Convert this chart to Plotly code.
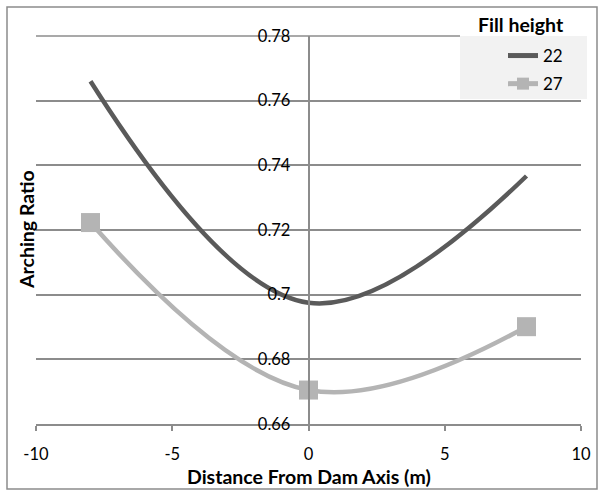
import plotly.graph_objects as go

distance = [-8, 0, 8]
fill_22 = [0.766, 0.6975, 0.7367]
fill_27 = [0.7223, 0.6705, 0.6901]
series_names = ["22", "27"]
x_ticks = [-10, -5, 0, 5, 10]
x_tick_text = ["-10", "-5", "0", "5", "10"]
y_ticks = [0.66, 0.68, 0.70, 0.72, 0.74, 0.76, 0.78]
y_tick_text = ["0.66", "0.68", "0.7", "0.72", "0.74", "0.76", "0.78"]

FONT = "Lato"
GRID = "#8c8c8c"


def px_x(p):
    return (p - 36) / 545


def px_y(p):
    return (424 - p) / 388


fig = go.Figure()
fig.add_trace(go.Scatter(
    x=distance, y=fill_22, name=series_names[0], mode="lines",
    line=dict(color="#5a5a5a", width=4.5, shape="spline", smoothing=1.1),
    legendgroup="a",
))
fig.add_trace(go.Scatter(
    x=distance, y=fill_27, name=series_names[1], mode="lines+markers",
    line=dict(color="#b4b4b4", width=4.5, shape="spline", smoothing=1.1),
    marker=dict(symbol="square", size=19, color="#b4b4b4"),
    legendgroup="b",
))

fig.update_layout(
    width=603, height=493,
    margin=dict(l=36, r=22, t=36, b=69),
    paper_bgcolor="white", plot_bgcolor="white",
    font=dict(family=FONT, size=16, color="#000000"),
    showlegend=True,
    legend=dict(
        x=px_x(503), xanchor="left",
        y=px_y(38), yanchor="top",
        bgcolor="rgba(0,0,0,0)",
        font=dict(family=FONT, size=17, color="#000"),
        itemsizing="constant",
        traceorder="grouped",
        tracegroupgap=3,
    ),
    xaxis=dict(
        range=[-10, 10], tickvals=x_ticks, ticktext=x_tick_text,
        showgrid=False, zeroline=False,
        showline=True, linecolor=GRID, linewidth=1.5,
        ticks="outside", ticklen=5, tickcolor=GRID, tickwidth=1.5,
        ticklabelstandoff=9,
        tickfont=dict(family=FONT, size=16.5, color="#000"),
    ),
    yaxis=dict(
        range=[0.66, 0.78], tickvals=y_ticks, ticktext=y_tick_text,
        anchor="free", position=0.5,
        showgrid=True, gridcolor=GRID, gridwidth=1.5, zeroline=False,
        showline=True, linecolor=GRID, linewidth=1.5,
        ticks="", ticklabelstandoff=14,
        tickfont=dict(family=FONT, size=16.5, color="#000"),
    ),
    annotations=[
        dict(text="<b>Distance From Dam Axis (m)</b>", x=0.5, y=px_y(476),
             xref="paper", yref="paper", showarrow=False,
             font=dict(family=FONT, size=19.5, color="#000"), xanchor="center", yanchor="middle"),
        dict(text="<b>Arching Ratio</b>", x=px_x(26), y=0.5, textangle=-90,
             xref="paper", yref="paper", showarrow=False,
             font=dict(family=FONT, size=19.5, color="#000"), xanchor="center", yanchor="middle"),
        dict(text="<b>Fill height</b>", x=px_x(521), y=px_y(24),
             xref="paper", yref="paper", showarrow=False,
             font=dict(family=FONT, size=19.5, color="#000"), xanchor="center", yanchor="middle"),
    ],
    shapes=[
        dict(type="rect", xref="paper", yref="paper",
             x0=px_x(7), x1=px_x(597), y0=px_y(489), y1=px_y(7),
             line=dict(color="#8c8c8c", width=1.5), fillcolor="rgba(0,0,0,0)", layer="below"),
        dict(type="line", xref="paper", yref="paper",
             x0=0, x1=px_x(460), y0=1, y1=1,
             line=dict(color=GRID, width=1.5), layer="below"),
        dict(type="rect", xref="paper", yref="paper",
             x0=px_x(460), x1=px_x(587), y0=px_y(99), y1=px_y(36),
             line=dict(width=0), fillcolor="#f2f2f2", layer="between"),
    ],
)

fig.write_html("out.html")
